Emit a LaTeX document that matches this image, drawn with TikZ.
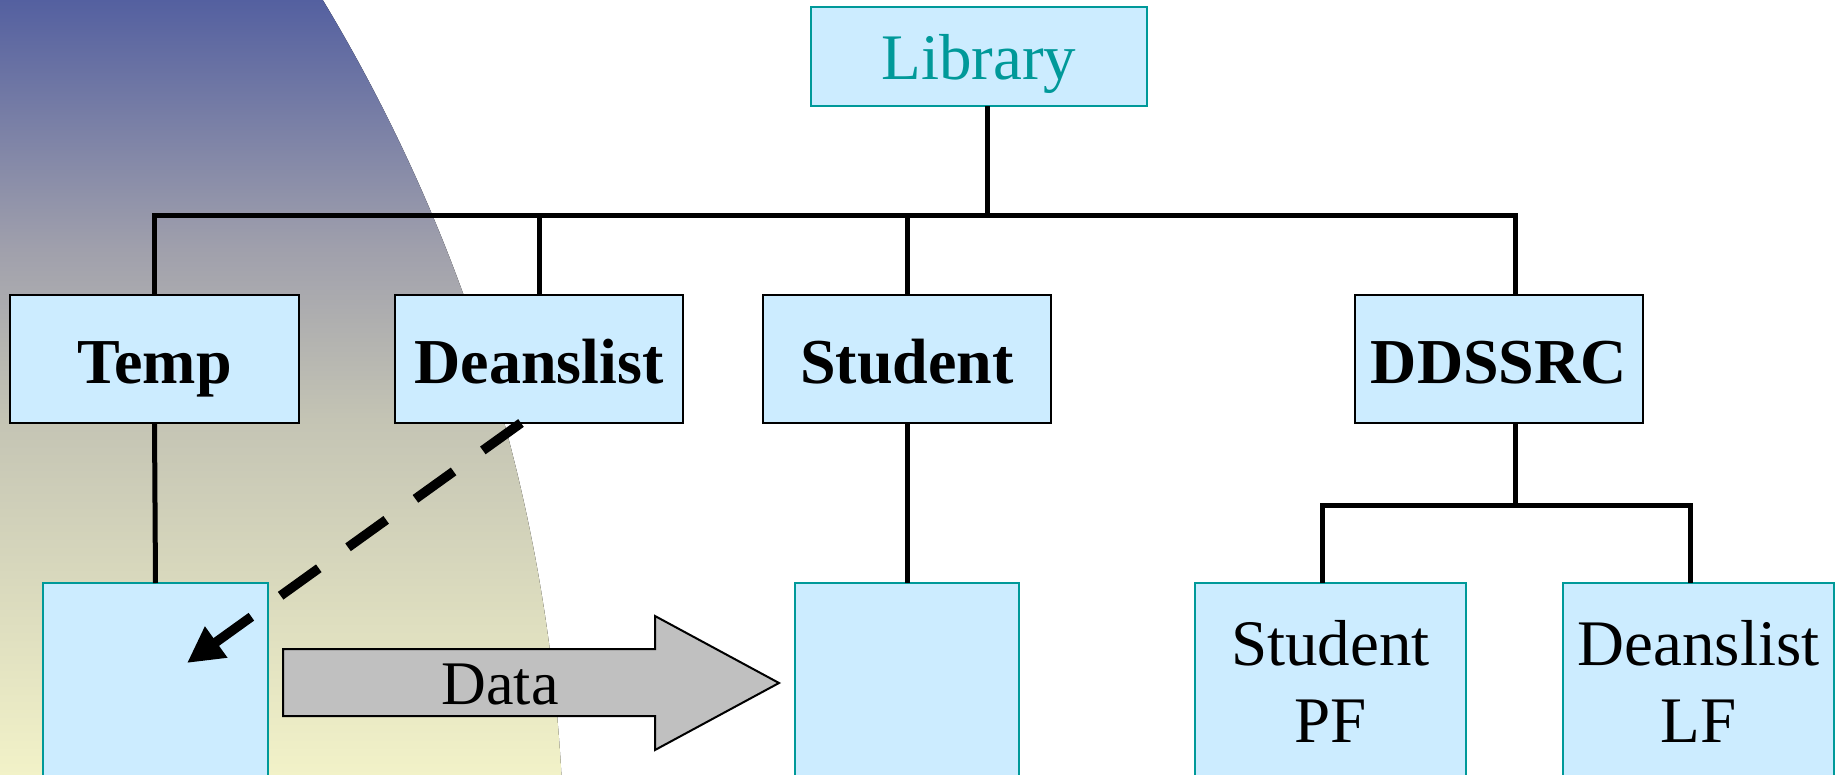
\documentclass[tikz,border=0pt]{standalone}
\usepackage{fontspec}
\setmainfont{Liberation Serif}
\usetikzlibrary{arrows.meta,calc}

\definecolor{boxfill}{HTML}{CCECFF}
\definecolor{tealline}{HTML}{009999}
\definecolor{arrowgray}{HTML}{C0C0C0}
\definecolor{bgblue}{HTML}{5460A0}
\definecolor{bggray}{HTML}{A0A0AC}
\definecolor{bgsand}{HTML}{C4C4B4}
\definecolor{bgyellow}{HTML}{F2F2C8}

% vertical backdrop gradient (the 25bp..75bp band maps onto the filled path)
\pgfdeclareverticalshading{bgshade}{100bp}{%
  color(0bp)=(bgyellow); color(25bp)=(bgyellow); color(47.9bp)=(bgsand);
  color(58.9bp)=(bggray); color(75bp)=(bgblue); color(100bp)=(bgblue)}

\begin{document}
\begin{tikzpicture}[x=1pt,y=-1pt,
  tablebox/.style={draw=black, line width=2.5pt, fill=boxfill, inner sep=0pt,
    outer sep=0pt, minimum width=288pt, minimum height=128pt,
    font=\fontsize{64}{70}\selectfont\bfseries, text height=48pt, text depth=0pt},
  filebox/.style={draw=tealline, line width=2.5pt, fill=boxfill, inner sep=0pt,
    outer sep=0pt, minimum height=196pt, align=center,
    font=\fontsize{65}{77}\selectfont},
  libbox/.style={draw=tealline, line width=2.5pt, fill=boxfill, inner sep=0pt,
    outer sep=0pt, minimum width=336pt, minimum height=99pt, text=tealline,
    font=\fontsize{65}{72}\selectfont, text height=47pt, text depth=0pt},
  link/.style={draw=black, line width=5pt, line join=miter},
  flowlink/.style={draw=black, line width=9.5pt, dash pattern=on 47pt off 36pt,
    -{Triangle[length=36pt,width=36pt]}},
  dataarrow/.style={draw=black, line width=2pt, fill=arrowgray, line join=miter},
  datalabel/.style={font=\fontsize{62}{70}\selectfont, inner sep=0pt}
]
\useasboundingbox (0,0) rectangle (1841,775);
\clip (0,0) rectangle (1841,775);

% backdrop: shaded disc on the left
\begin{scope}
  \clip (-1120,869) circle (1684pt);
  \fill[shading=bgshade] (0,0) rectangle (700,775);
\end{scope}

% boxes
\node[libbox]   (lib)   at (979,56.5) {Library};
\node[tablebox, minimum width=289pt] (temp)  at (154.5,359) {Temp};
\node[tablebox] (deans) at (539,359)  {Deanslist};
\node[tablebox] (stud)  at (907,359)  {Student};
\node[tablebox] (dds)   at (1499,359) {DDSSRC};

\node[filebox, minimum width=225pt] (tempfile) at (155.5,681) {};
\node[filebox, minimum width=224pt] (studfile) at (907,681) {};
\node[filebox, minimum width=271pt] (spf) at (1330.5,681) {Student\\PF};
\node[filebox, minimum width=271pt] (dlf) at (1698.5,681) {Deanslist\\LF};

% attachment points of the tree lines
\coordinate (libfoot) at ($(lib.south)+(8,0)$);
\coordinate (bus)     at (986,216);
\coordinate (ddtop)   at ($(dds.north)+(16,0)$);
\coordinate (ddfoot)  at ($(dds.south)+(16,0)$);
\coordinate (lowbus)  at (1515,505);
\coordinate (spftop)  at ($(spf.north)+(-8,0)$);
\coordinate (dlftop)  at ($(dlf.north)+(-8,0)$);

% upper tree
\draw[link] (libfoot) -- (libfoot |- bus);
\draw[link] (temp.north) -- (temp.north |- bus) -- (ddtop |- bus) -- (ddtop);
\draw[link] (deans.north) -- (deans.north |- bus);
\draw[link] (stud.north) -- (stud.north |- bus);

% table to file links
\draw[link] (temp.south) -- (tempfile.north);
\draw[link] (stud.south) -- (studfile.north);

% DDSSRC subtree
\draw[link] (ddfoot) -- (ddfoot |- lowbus);
\draw[link] (spftop) -- (spftop |- lowbus) -- (dlftop |- lowbus) -- (dlftop);

% dashed flow from Deanslist into Temp
\coordinate (dstart) at (521,423);
\coordinate (dend)   at (187,663);
\draw[flowlink] (dstart) -- (dend);

% data transfer arrow
\draw[dataarrow] (283,649) -- (655,649) -- (655,616) -- (779,683)
  -- (655,750) -- (655,716) -- (283,716) -- cycle;
\node[datalabel] (data) at (500,684.5) {Data};
\end{tikzpicture}
\end{document}
